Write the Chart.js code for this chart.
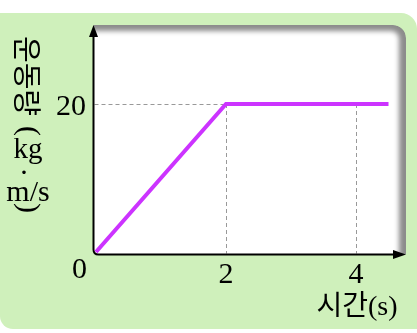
<!DOCTYPE html>
<html>
<head>
<meta charset="utf-8">
<script src="https://cdn.jsdelivr.net/npm/chart.js@4"></script>
<style>
html, body { margin: 0; padding: 0; background: #fff; }
canvas { display: block; }
</style>
</head>
<body>
<canvas id="myChart" width="417" height="333"></canvas>
<script>
// chart values
const times = [0, 2, 4.5];
const momentum = [0, 20, 20];
const xTicks = [2, 4];
const yTicks = [20];
const guideX = [2, 4];
const guideY = [20];
const xTitle = '시간(s)';
const yTitleKo = '운동량';

const serif = '"Liberation Serif", "DejaVu Serif", serif';
const kfont = '"Noto Sans CJK KR", sans-serif';

// background, plot frame, axes, dashed guides and texts
const decor = {
  id: 'decor',
  beforeDatasetsDraw(chart) {
    const ctx = chart.ctx;
    const xs = chart.scales.x, ys = chart.scales.y;
    const x0 = xs.getPixelForValue(0), y0 = ys.getPixelForValue(0);
    const ax = x0 - 2.5, ay = y0 + 2.5;
    const top = 25, right = 406;

    ctx.save();
    ctx.fillStyle = '#fff';
    ctx.fillRect(0, 0, chart.width, chart.height);
    ctx.fillStyle = '#cff0bb';
    ctx.beginPath();
    ctx.roundRect(0, 13, chart.width, 316, [0, 16, 0, 13]);
    ctx.fill();

    // white box with soft grey shadow on top and right
    ctx.save();
    ctx.beginPath();
    ctx.roundRect(ax, top, right - ax, ay - top, [0, 13, 0, 5]);
    ctx.clip();
    ctx.fillStyle = '#8c8c8c';
    ctx.fill();
    ctx.filter = 'blur(2.5px)';
    ctx.fillStyle = '#fff';
    ctx.beginPath();
    ctx.roundRect(ax - 10, top + 6, right - ax + 3, ay - top + 4, [0, 8, 0, 0]);
    ctx.fill();
    ctx.filter = 'none';
    ctx.restore();

    // dashed guides
    ctx.setLineDash([4, 3]);
    ctx.strokeStyle = '#999';
    ctx.lineWidth = 1;
    guideY.forEach(v => {
      const py = Math.round(ys.getPixelForValue(v)) + 0.5;
      ctx.beginPath();
      ctx.moveTo(ax + 1, py);
      ctx.lineTo(xs.getPixelForValue(guideX[0]), py);
      ctx.stroke();
    });
    guideX.forEach(v => {
      const px = Math.round(xs.getPixelForValue(v)) + 0.5;
      ctx.beginPath();
      ctx.moveTo(px, ys.getPixelForValue(guideY[0]));
      ctx.lineTo(px, ay - 1);
      ctx.stroke();
    });
    ctx.setLineDash([]);

    // axes with arrows
    ctx.strokeStyle = '#000';
    ctx.fillStyle = '#000';
    ctx.lineWidth = 2;
    ctx.beginPath();
    ctx.moveTo(ax, 34);
    ctx.lineTo(ax, ay - 5);
    ctx.quadraticCurveTo(ax, ay, ax + 5, ay);
    ctx.lineTo(396, ay);
    ctx.stroke();
    ctx.beginPath();
    ctx.moveTo(ax, 25);
    ctx.lineTo(ax - 4.5, 37);
    ctx.lineTo(ax + 4.5, 37);
    ctx.closePath();
    ctx.fill();
    ctx.beginPath();
    ctx.moveTo(406, ay);
    ctx.lineTo(393, ay - 4.5);
    ctx.lineTo(393, ay + 4.5);
    ctx.closePath();
    ctx.fill();

    // tick labels
    ctx.font = '30px ' + serif;
    ctx.textBaseline = 'alphabetic';
    ctx.textAlign = 'center';
    xTicks.forEach(v => ctx.fillText(String(v), xs.getPixelForValue(v), y0 + 31));
    ctx.fillText('0', x0 - 16.5, y0 + 26);
    ctx.textAlign = 'right';
    yTicks.forEach(v => ctx.fillText(String(v), ax - 7.5, ys.getPixelForValue(v) + 11));

    // x title
    ctx.textAlign = 'center';
    ctx.font = '28px ' + serif + ', ' + kfont;
    ctx.fillText(xTitle, 357, 315);

    // y title, vertical
    ctx.save();
    ctx.translate(27, 76);
    ctx.rotate(Math.PI / 2);
    ctx.font = '29px ' + kfont;
    ctx.textBaseline = 'middle';
    ctx.fillText(yTitleKo, 0, 0);
    ctx.restore();
    ctx.font = '30px ' + serif;
    [['(', 131], [')', 208]].forEach(([p, py]) => {
      ctx.save();
      ctx.translate(28, py);
      ctx.rotate(Math.PI / 2);
      ctx.textBaseline = 'middle';
      ctx.fillText(p, 0, 0);
      ctx.restore();
    });
    ctx.textBaseline = 'alphabetic';
    ctx.font = '29px ' + serif;
    ctx.fillText('kg', 28, 158);
    ctx.font = '30px ' + serif;
    ctx.fillText('m/s', 28, 201);
    ctx.textBaseline = 'middle';
    ctx.fillText('·', 24, 174);
    ctx.restore();
  }
};

const data = {
  datasets: [{
    data: times.map((t, i) => ({ x: t, y: momentum[i] })),
    borderColor: '#cc33ff',
    borderWidth: 4,
    pointRadius: 0,
    tension: 0,
    fill: false,
    clip: false
  }]
};

const config = {
  type: 'line',
  data: data,
  options: {
    responsive: false,
    animation: false,
    layout: { padding: { left: 96, right: 15.5, top: 30, bottom: 81 } },
    scales: {
      x: { type: 'linear', display: false, min: 0, max: 4.7 },
      y: { display: false, min: 0, max: 30 }
    },
    plugins: {
      legend: { display: false },
      tooltip: { enabled: false }
    }
  },
  plugins: [decor]
};

new Chart(document.getElementById('myChart').getContext('2d'), config);
</script>
</body>
</html>
